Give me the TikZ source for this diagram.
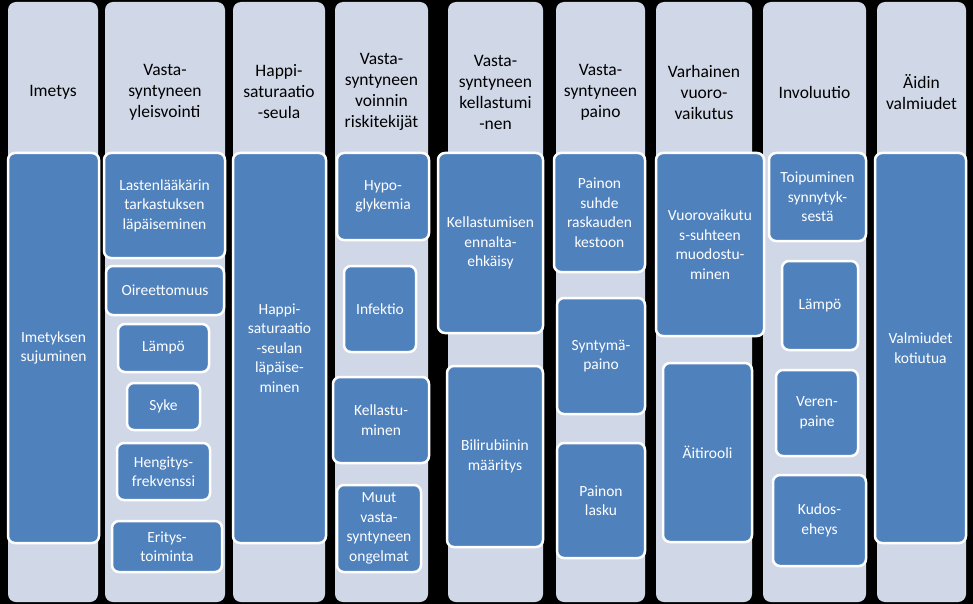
\documentclass[tikz,border=0pt]{standalone}
\usepackage{fontspec}
\setmainfont{Carlito}
\definecolor{colbg}{HTML}{D0D8E8}
\definecolor{boxbl}{HTML}{4F81BD}
\begin{document}
\begin{tikzpicture}[x=1pt,y=-1pt,
  col/.style={fill=colbg,draw=none,rounded corners=8pt},
  hd/.style={align=center,font=\fontsize{17.5}{21}\selectfont,text=black},
  bx/.style={fill=boxbl,draw=white,line width=2.5pt,rounded corners=7pt},
  bt/.style={align=center,font=\fontsize{15.5}{19.5}\selectfont,text=white}]
\fill[black] (0,0) rectangle (973,604);
\useasboundingbox (0,0) rectangle (973,604);
% columns
\foreach \a/\b/\n/\t in {8/98/c1/Imetys,105/225/c2/{Vasta-\\syntyneen\\yleisvointi},233/325/c3/{Happi-\\saturaatio\\-seula},335/428/c4/{Vasta-\\syntyneen\\voinnin\\riskitekijät},448/543/c5/{Vasta-\\syntyneen\\kellastumi\\-nen},556/645/c6/{Vasta-\\syntyneen\\paino},656/752/c7/{Varhainen\\vuoro-\\vaikutus},763/866/c8/{Involuutio},877/966/c9/{Äidin\\valmiudet}}{
  \draw[col] (\a,2) rectangle (\b,602);
  \node[hd] (\n) at ({(\a+\b)/2},92) {\t};
}
\newcommand{\bxx}[6]{\draw[bx] (#1,#2) rectangle (#3,#4); \node[bt] (#5) at ({(#1+#3)/2},{(#2+#4)/2}) {#6};}
\bxx{8}{153}{99}{543}{b1}{Imetyksen\\sujuminen}
\bxx{104}{153}{225}{258}{b21}{Lastenlääkärin\\tarkastuksen\\läpäiseminen}
\bxx{106}{266}{224}{315}{b22}{Oireettomuus}
\bxx{118}{324}{209}{372}{b23}{Lämpö}
\bxx{127}{383}{200}{430}{b24}{Syke}
\bxx{117}{443}{210}{500}{b25}{Hengitys-\\frekvenssi}
\bxx{112}{521}{222}{572}{b26}{Eritys-\\toiminta}
\bxx{233}{153}{326}{543}{b3}{Happi-\\saturaatio\\-seulan\\läpäise-\\minen}
\bxx{337}{153}{429}{240}{b41}{Hypo-\\glykemia}
\bxx{344}{266}{416}{352}{b42}{Infektio}
\bxx{333}{377}{429}{463}{b43}{Kellastu-\\minen}
\bxx{337}{485}{421}{572}{b44}{Muut\\vasta-\\syntyneen\\ongelmat}
\bxx{438}{153}{543}{333}{b51}{Kellastumisen\\ennalta-\\ehkäisy}
\bxx{447}{366}{543}{547}{b52}{Bilirubiinin\\määritys}
\bxx{554}{153}{645}{272}{b61}{Painon\\suhde\\raskauden\\kestoon}
\bxx{557}{298}{645}{414}{b62}{Syntymä-\\paino}
\bxx{557}{443}{645}{558}{b63}{Painon\\lasku}
\bxx{656}{153}{764}{336}{b71}{Vuorovaikutu\\s-suhteen\\muodostu-\\minen}
\bxx{663}{363}{752}{542}{b72}{Äitirooli}
\bxx{769}{153}{866}{241}{b81}{Toipuminen\\synnytyk-\\sestä}
\bxx{782}{261}{858}{350}{b82}{Lämpö}
\bxx{776}{370}{858}{456}{b83}{Veren-\\paine}
\bxx{773}{475}{866}{566}{b84}{Kudos-\\eheys}
\bxx{875}{153}{966}{543}{b9}{Valmiudet\\kotiutua}
\end{tikzpicture}
\end{document}
